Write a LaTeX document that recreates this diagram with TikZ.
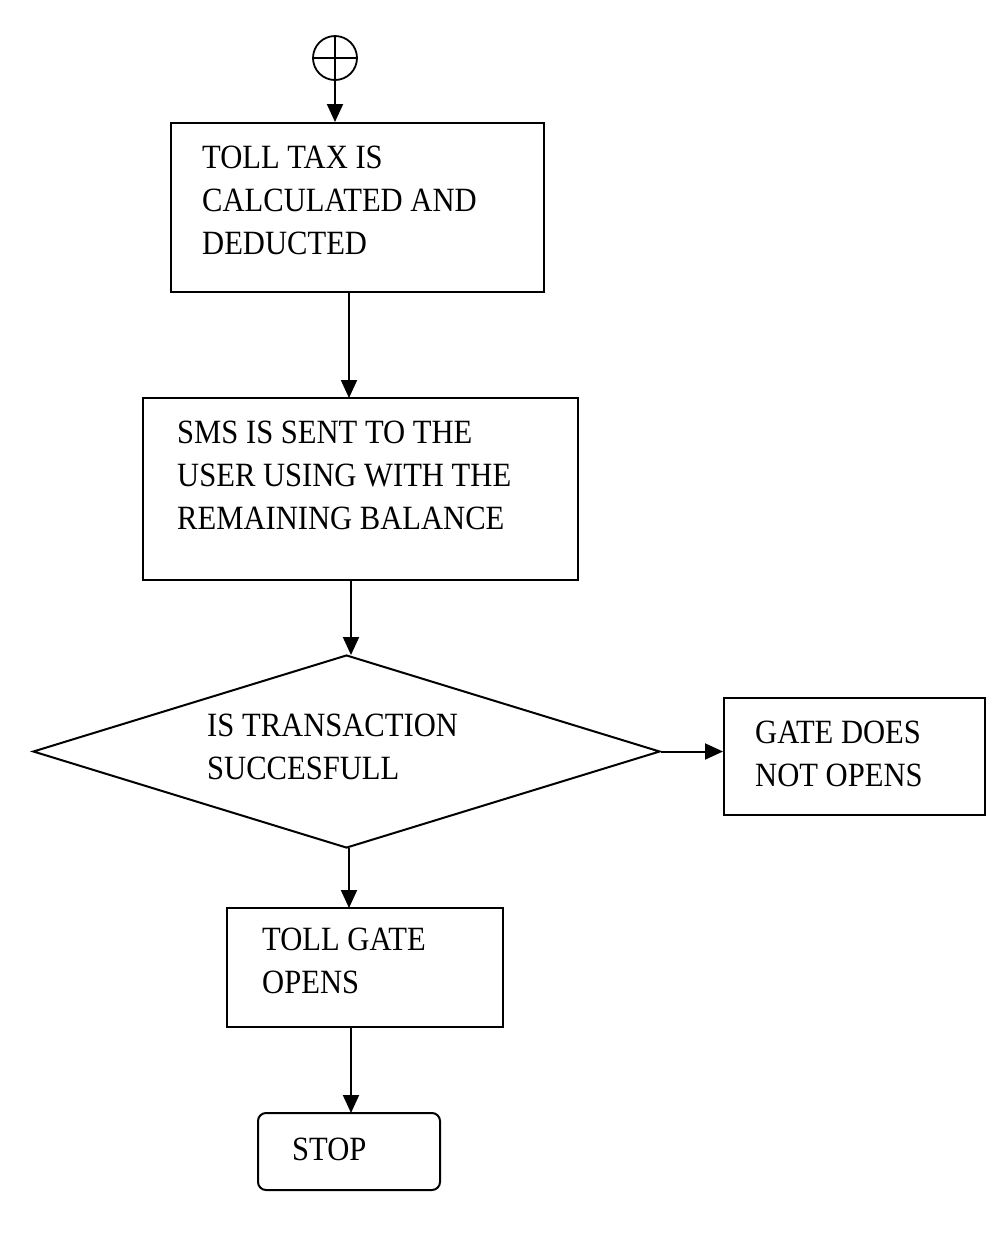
\documentclass[tikz,border=0pt]{standalone}
\usepackage{fontspec}
\setmainfont[FakeStretch=0.9]{Liberation Serif}
\usetikzlibrary{shapes.geometric,arrows.meta}
\begin{document}
\begin{tikzpicture}[x=1pt,y=-1pt,
  box/.style={draw,line width=2pt,inner sep=0},
  txt/.style={anchor=north west,align=left,inner sep=0,font=\fontsize{34}{43}\selectfont},
  arr/.style={line width=2pt,-{Triangle[length=18pt,width=16pt]}}]
\useasboundingbox (0,0) rectangle (994,1248);
\node[draw,circle,line width=1.8pt,minimum size=44pt,inner sep=0] (start) at (335,58) {};
\draw[line width=1.5pt] (start.north) -- (start.south) (start.west) -- (start.east);
\node[box,minimum width=373pt,minimum height=169pt] (b1) at (357.5,207.5) {};
\node[txt] (t1) at (202,146) {TOLL TAX IS\\CALCULATED AND\\DEDUCTED};
\node[box,minimum width=435pt,minimum height=182pt] (b2) at (360.5,489) {};
\node[txt] (t2) at (177,421) {SMS IS SENT TO THE\\USER USING WITH THE\\REMAINING BALANCE};
\node[draw,diamond,line width=2pt,minimum width=627pt,minimum height=193pt,inner sep=0] (d) at (346.5,751.5) {};
\node[txt] (t3) at (207,714) {IS TRANSACTION\\SUCCESFULL};
\node[box,minimum width=261pt,minimum height=117pt] (b3) at (854.5,756.5) {};
\node[txt] (t4) at (755,721) {GATE DOES\\NOT OPENS};
\node[box,minimum width=276pt,minimum height=119pt] (b4) at (365,967.5) {};
\node[txt] (t5) at (262,928) {TOLL GATE\\OPENS};
\node[box,rounded corners=8pt,minimum width=182pt,minimum height=77pt] (b5) at (349,1151.5) {};
\node[txt] (t6) at (292,1138) {STOP};
\draw[arr] (start.south) -- (start.south |- b1.north);
\draw[arr] (349,292) -- (349,398);
\draw[arr] (351,580) -- (351,655);
\draw[arr] (d.east) -- (d.east -| b3.west);
\draw[arr] (349,848) -- (349,908);
\draw[arr] (351,1027) -- (351,1113);
\end{tikzpicture}
\end{document}
